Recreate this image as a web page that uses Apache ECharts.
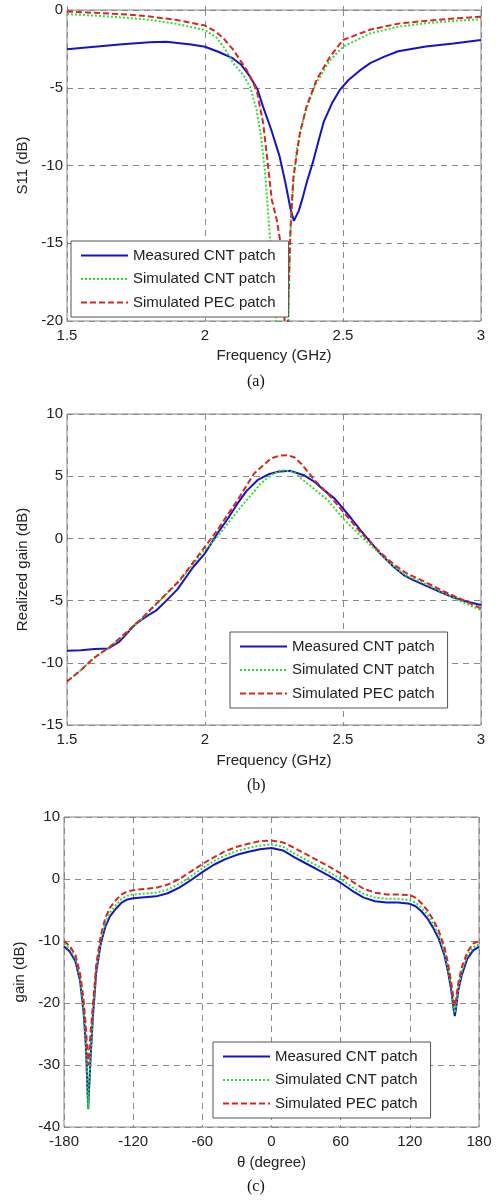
<!DOCTYPE html>
<html>
<head>
<meta charset="utf-8">
<script src="https://cdn.jsdelivr.net/npm/echarts@6/dist/echarts.min.js"></script>
<style>
html,body{margin:0;padding:0;background:#fff;}
#c{width:498px;height:1201px;}
</style>
</head>
<body>
<div id="c"></div>
<script>
// ---------- (a) S11 ----------
const fA_meas = [1.5,1.6,1.7,1.8,1.86,1.9,1.95,2.0,2.05,2.1,2.13,2.16,2.19,2.21,2.24,2.27,2.29,2.31,2.322,2.34,2.355,2.37,2.39,2.41,2.43,2.46,2.49,2.52,2.56,2.6,2.65,2.7,2.8,2.9,3.0];
const sA_meas = [-2.53,-2.36,-2.2,-2.07,-2.04,-2.12,-2.22,-2.36,-2.7,-3.1,-3.5,-4.2,-5.1,-6.2,-7.7,-9.4,-11.0,-12.8,-13.55,-12.9,-12.0,-11.0,-9.85,-8.5,-7.2,-6.0,-5.1,-4.5,-3.9,-3.4,-3.0,-2.65,-2.35,-2.15,-1.93];
const fA_cnt = [1.5,1.6,1.7,1.8,1.9,2.0,2.04,2.067,2.103,2.139,2.163,2.187,2.205,2.22,2.236,2.26,2.28,2.295,2.302,2.308,2.32,2.332,2.35,2.37,2.4,2.45,2.5,2.6,2.7,2.8,2.9,3.0];
const sA_cnt = [-0.26,-0.36,-0.48,-0.63,-0.9,-1.29,-1.75,-2.36,-3.43,-4.18,-4.93,-6.43,-8.36,-10.9,-14.8,-20.5,-25,-26,-20.5,-14.8,-11.1,-9.0,-7.5,-6.2,-4.8,-3.3,-2.36,-1.5,-1.07,-0.85,-0.7,-0.6];
const fA_pec = [1.5,1.6,1.7,1.8,1.9,2.0,2.04,2.067,2.103,2.151,2.187,2.211,2.226,2.242,2.26,2.272,2.285,2.295,2.303,2.31,2.32,2.344,2.368,2.404,2.453,2.5,2.6,2.707,2.8,2.9,3.0];
const sA_pec = [-0.1,-0.18,-0.27,-0.42,-0.65,-1.0,-1.4,-1.82,-2.57,-3.86,-5.14,-7.3,-9.65,-12.2,-13.5,-14.8,-18,-24,-18,-14,-10.8,-7.9,-6.2,-4.5,-3.0,-1.93,-1.25,-0.86,-0.7,-0.55,-0.43];

// ---------- (b) Realized gain ----------
const fB_meas = [1.5,1.55,1.6,1.65,1.69,1.75,1.8,1.825,1.86,1.9,1.958,2.0,2.045,2.08,2.118,2.15,2.19,2.23,2.262,2.31,2.358,2.4,2.431,2.47,2.5,2.53,2.563,2.6,2.634,2.683,2.72,2.755,2.8,2.851,2.9,2.95,3.0];
const gB_meas = [-9.03,-9.0,-8.9,-8.85,-8.3,-6.85,-6.1,-5.76,-5.0,-4.1,-2.28,-1.2,0.4,1.5,2.81,3.8,4.68,5.15,5.35,5.43,5.08,4.5,3.88,3.2,2.41,1.6,0.67,-0.3,-1.2,-2.28,-2.95,-3.35,-3.8,-4.29,-4.75,-5.1,-5.36];
const fB_cnt = [1.5,1.55,1.596,1.656,1.7,1.765,1.837,1.909,1.982,2.045,2.13,2.203,2.24,2.275,2.32,2.37,2.445,2.5,2.567,2.639,2.687,2.73,2.784,2.868,2.93,3.0];
const gB_cnt = [-11.5,-10.6,-9.64,-8.7,-7.9,-6.6,-5.0,-3.4,-1.35,0.13,2.54,4.42,5.1,5.49,5.35,4.42,3.08,1.6,0.13,-1.34,-2.3,-3.0,-3.5,-4.4,-5.1,-5.76];
const fB_pec = [1.5,1.55,1.596,1.656,1.7,1.765,1.837,1.909,1.982,2.045,2.118,2.178,2.239,2.27,2.3,2.325,2.348,2.397,2.445,2.506,2.567,2.639,2.687,2.73,2.784,2.868,2.93,3.0];
const gB_pec = [-11.5,-10.6,-9.64,-8.7,-7.85,-6.56,-4.96,-3.35,-1.2,0.67,3.08,5.22,6.43,6.65,6.69,6.5,6.02,4.68,3.61,2.0,0.4,-1.2,-2.14,-2.8,-3.35,-4.29,-4.9,-5.62];

// ---------- (c) Gain pattern ----------
const thetaC = [-180,-175,-170,-166,-163,-161,-159,-157,-155,-152,-148,-144,-140,-135,-130,-125,-120,-110,-100,-90,-80,-70,-60,-50,-40,-30,-20,-10,0,10,20,30,40,50,60,70,80,90,100,110,120,125,130,135,140,145,150,153,156,158,159,160,162,165,170,175,180];
const gC_meas = [-10.9,-11.7,-13.3,-16.5,-21.5,-27,-37.1,-29,-22.5,-15,-10.3,-7.6,-6.0,-4.8,-3.8,-3.3,-3.1,-2.95,-2.8,-2.3,-1.4,-0.2,1.1,2.3,3.2,3.9,4.4,4.8,5.0,4.6,3.5,2.5,1.5,0.5,-0.6,-1.9,-3.0,-3.6,-3.8,-3.8,-4.0,-4.4,-5.2,-6.3,-7.8,-9.6,-12.3,-14.8,-18,-21,-22.1,-21,-18,-15.5,-12.8,-11.5,-10.9];
const gC_cnt = [-10.4,-11.2,-12.8,-16,-21,-26.5,-37,-28.5,-22,-14.5,-9.8,-7.0,-5.4,-4.2,-3.2,-2.7,-2.5,-2.35,-2.2,-1.7,-0.8,0.4,1.7,2.9,3.8,4.5,5.0,5.4,5.6,5.2,4.1,3.1,2.1,1.1,0.0,-1.3,-2.4,-3.0,-3.2,-3.2,-3.4,-3.8,-4.6,-5.7,-7.2,-9.0,-11.8,-14.3,-17.5,-20.5,-21.6,-20.5,-17.5,-15,-12.3,-11,-10.5];
const gC_pec = [-10.0,-10.8,-12.3,-15.3,-19.5,-24,-30,-25,-20.5,-13.8,-9.0,-6.2,-4.6,-3.4,-2.5,-2.0,-1.8,-1.6,-1.4,-0.9,0.0,1.2,2.4,3.5,4.5,5.2,5.7,6.1,6.2,5.9,5.0,4.0,3.0,2.0,0.9,-0.4,-1.6,-2.2,-2.5,-2.5,-2.6,-3.0,-3.9,-5.0,-6.5,-8.3,-11.0,-13.5,-16.8,-19.5,-20.5,-19.5,-16.8,-14.3,-11.7,-10.4,-10.0];

const names = ['Measured CNT patch','Simulated CNT patch','Simulated PEC patch'];
const captions = ['(a)','(b)','(c)'];

const FONT = '"Liberation Sans", Arial, sans-serif';
const TXT = '#222';
const colors = ['#1414c8','#2ee02e','#dc2424'];
const dashes = ['solid',[2,2],[6,3]];

function pairs(xs, ys){ return xs.map((x,i)=>[x, ys[i]]); }

const grids = [
  {left:67, top:10, width:414, height:311},
  {left:67, top:414, width:414, height:311},
  {left:64, top:817, width:415, height:310}
].map(g=>Object.assign({show:true, borderColor:'#858585', borderWidth:1, backgroundColor:'#fff'}, g));

const gridLine = {show:true, lineStyle:{color:'#8a8a8a', width:1, type:[6,5]}};
const tick = {show:true, inside:true, length:4, lineStyle:{color:'#858585'}};
const label = {color:TXT, fontSize:15, fontFamily:FONT};
const nameStyle = {color:TXT, fontSize:15, fontFamily:FONT};

const xAxes = [
  {gridIndex:0, min:1.5, max:3, interval:0.5, name:'Frequency (GHz)', nameGap:27},
  {gridIndex:1, min:1.5, max:3, interval:0.5, name:'Frequency (GHz)', nameGap:28},
  {gridIndex:2, min:-180, max:180, interval:60, name:'θ (degree)', nameGap:28}
].map(a=>Object.assign({type:'value', nameLocation:'middle', nameTextStyle:nameStyle,
  axisLine:{show:false}, axisTick:tick, splitLine:gridLine, axisLabel:Object.assign({margin:7},label)}, a));

const yAxes = [
  {gridIndex:0, min:-20, max:0, interval:5, name:'S11 (dB)', nameGap:35},
  {gridIndex:1, min:-15, max:10, interval:5, name:'Realized gain (dB)', nameGap:35},
  {gridIndex:2, min:-40, max:10, interval:10, name:'gain (dB)', nameGap:32}
].map(a=>Object.assign({type:'value', nameLocation:'middle', nameTextStyle:nameStyle,
  axisLine:{show:false}, axisTick:tick, splitLine:gridLine, axisLabel:Object.assign({margin:4},label)}, a));

const dataSets = [
  [pairs(fA_meas,sA_meas), pairs(fA_cnt,sA_cnt), pairs(fA_pec,sA_pec)],
  [pairs(fB_meas,gB_meas), pairs(fB_cnt,gB_cnt), pairs(fB_pec,gB_pec)],
  [pairs(thetaC,gC_meas), pairs(thetaC,gC_cnt), pairs(thetaC,gC_pec)]
];

const series = [];
dataSets.forEach((set, gi)=>{
  set.forEach((d, si)=>{
    series.push({
      type:'line', name:names[si], xAxisIndex:gi, yAxisIndex:gi, data:d,
      symbol:'none', showSymbol:false, clip:true, animation:false,
      lineStyle:{color:colors[si], width:2, type:dashes[si]},
      itemStyle:{color:colors[si]}, z:2+si
    });
  });
});

const legendPos = [{left:71, top:241},{left:230, top:632},{left:213, top:1042}];
const legends = legendPos.map(p=>Object.assign({
  orient:'vertical', data:names, backgroundColor:'#fff', borderColor:'#555', borderWidth:1,
  padding:[7,13,7,9], itemWidth:47, itemHeight:14, itemGap:8.5, selectedMode:false,
  itemStyle:{opacity:0, color:'rgba(0,0,0,0)', borderWidth:0},
  textStyle:{color:TXT, fontSize:15, fontFamily:FONT, lineHeight:14}, z:10
}, p));

const capPos = [383, 787, 1188];
const graphic = capPos.map((y,i)=>({
  type:'text', left:257-10, top:y-9,
  style:{text:captions[i], fill:'#111', font:'16px "Liberation Serif", "Times New Roman", serif'}
}));

const chart = echarts.init(document.getElementById('c'), null, {renderer:'canvas'});
chart.setOption({
  animation:false,
  backgroundColor:'#fff',
  grid:grids, xAxis:xAxes, yAxis:yAxes, series:series, legend:legends, graphic:graphic
});
</script>
</body>
</html>
